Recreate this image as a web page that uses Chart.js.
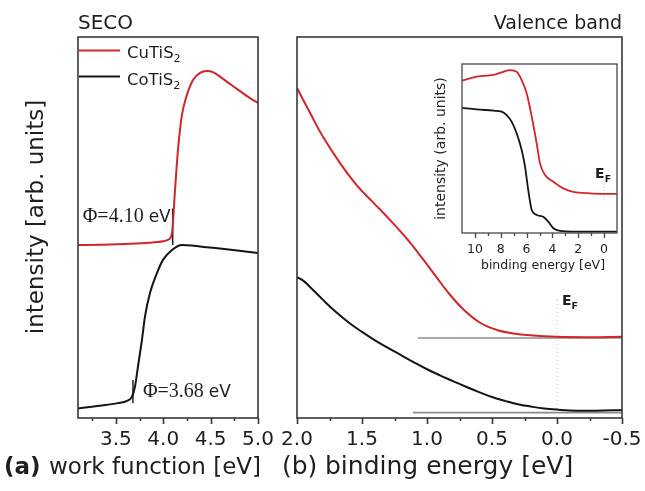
<!DOCTYPE html>
<html><head><meta charset="utf-8">
<script src="https://cdn.jsdelivr.net/npm/chart.js@4"></script>
<style>
html,body{margin:0;padding:0;background:#fff;}
#wrap{position:relative;width:645px;height:491px;overflow:hidden;background:#fff;}
canvas{position:absolute;left:0;top:0;}
</style></head><body>
<div id="wrap">
<canvas id="ca" width="645" height="491"></canvas>
<canvas id="cb" width="645" height="491"></canvas>
<canvas id="ci" width="645" height="491"></canvas>
</div>
<script>
// ---------- data ----------
const seriesNames = ['CuTiS₂', 'CoTiS₂'];
const panelTitles = ['SECO', 'Valence band'];

// (a) secondary electron cut-off (work function)
const secoCuX = [3.10, 3.35, 3.60, 3.85, 4.00, 4.06, 4.092, 4.124, 4.155, 4.197, 4.25, 4.314, 4.388, 4.461, 4.525, 4.62, 4.72, 4.81, 4.90, 5.00];
const secoCuY = [45.4, 45.5, 45.7, 46.0, 46.4, 46.9, 48.6, 59.8, 70.3, 79.5, 84.8, 88.7, 90.6, 91.1, 90.8, 89.2, 87.4, 85.8, 84.2, 82.7];
const secoCoX = [3.10, 3.33, 3.52, 3.617, 3.67, 3.701, 3.733, 3.775, 3.807, 3.86, 3.933, 3.997, 4.092, 4.197, 4.30, 4.388, 4.55, 4.736, 5.00];
const secoCoY = [2.5, 3.2, 3.9, 4.5, 5.6, 8.2, 13.5, 20.5, 26.6, 32.8, 38.0, 41.5, 44.1, 45.4, 45.3, 45.0, 44.6, 44.1, 43.3];
const phiValues = [4.10, 3.68];
const phiMarkCuY = [45.4, 55.0];
const phiMarkCoY = [3.9, 10.0];
const secoTicks = [3.5, 4.0, 4.5, 5.0];
const secoMinor = [3.25, 3.75, 4.25, 4.75];

// (b) valence band near E_F
const vbCuX = [2.0, 1.9, 1.8, 1.669, 1.538, 1.415, 1.285, 1.154, 1.031, 0.923, 0.846, 0.723, 0.592, 0.462, 0.338, 0.208, 0.0, -0.254, -0.5];
const vbCuY = [86.6, 80.1, 73.8, 66.9, 61.0, 56.6, 52.0, 47.0, 41.7, 36.8, 33.3, 28.6, 25.0, 23.1, 22.2, 21.7, 21.3, 21.2, 21.3];
const vbCoX = [2.0, 1.95, 1.9, 1.8, 1.7, 1.6, 1.5, 1.4, 1.3, 1.2, 1.1, 1.0, 0.9, 0.8, 0.7, 0.6, 0.5, 0.4, 0.3, 0.2, 0.1, 0.0, -0.15, -0.3, -0.5];
const vbCoY = [37.0, 36.0, 34.4, 31.0, 27.8, 25.0, 22.6, 20.4, 18.4, 16.5, 14.6, 12.8, 11.2, 9.7, 8.2, 6.8, 5.5, 4.5, 3.6, 3.0, 2.5, 2.2, 1.9, 1.9, 2.1];
const baseCuX = [1.069, -0.5], baseCuY = [21.0, 21.0];
const baseCoX = [1.108, -0.5], baseCoY = [1.4, 1.4];
const efLineX = [0, 0], efLineY = [31, 1.3];
const vbTicks = [2.0, 1.5, 1.0, 0.5, 0.0, -0.5];
const vbMinor = [1.75, 1.25, 0.75, 0.25, -0.25];

// inset: wide valence band
const inCuX = [11.03, 9.87, 8.58, 7.8, 7.29, 6.77, 6.38, 5.99, 5.6, 5.22, 4.96, 4.57, 3.93, 3.16, 2.38, 1.09, -0.98];
const inCuY = [90.1, 92.5, 93.5, 95.4, 96.4, 95.4, 90.5, 82.6, 68.8, 53.1, 41.2, 34.3, 30.3, 26.4, 24.4, 23.5, 23.1];
const inCoX = [11.03, 9.87, 8.58, 7.93, 7.54, 7.16, 6.77, 6.38, 6.12, 5.87, 5.6, 5.22, 4.71, 4.32, 3.93, 3.41, 2.38, -0.98];
const inCoY = [74.1, 73.2, 72.4, 71.8, 69.8, 65.9, 59.0, 49.1, 39.3, 25.4, 13.6, 10.7, 9.6, 6.7, 2.8, 1.2, 0.8, 0.8];
const inEfX = [0, 0], inEfY = [31, 19.5];
const inTicks = [10, 8, 6, 4, 2, 0];
const inMinor = [9, 7, 5, 3, 1];

// ---------- helpers ----------
const SANS = '"DejaVu Sans", Verdana, sans-serif';
const SERIF = '"Liberation Serif", "Times New Roman", serif';
const RED = '#d0262c', BLACK = '#141414', GRAY = '#8c8c8c', FRAME = '#383838', TXT = '#1e1e1e';

function pts(xs, ys) { return xs.map((x, i) => ({ x: x, y: ys[i] })); }
function segsOf(label) {
  const subs = { '₀':'0','₁':'1','₂':'2','₃':'3','₄':'4' };
  const out = [];
  for (const ch of label) {
    const sub = subs[ch] !== undefined;
    const t = sub ? subs[ch] : ch;
    const last = out[out.length - 1];
    if (last && last.sub === sub) last.t += t; else out.push({ t: t, sub: sub });
  }
  return out;
}
function drawSegs(ctx, segs, x, y, size, family, weight, align) {
  const ws = segs.map(s => { ctx.font = (weight || '') + ' ' + (s.sub ? size * 0.68 : size) + 'px ' + family; return ctx.measureText(s.t).width; });
  const w = ws.reduce((a, b) => a + b, 0);
  let cx = align === 'right' ? x - w : align === 'center' ? x - w / 2 : x;
  segs.forEach((s, i) => {
    ctx.font = (weight || '') + ' ' + (s.sub ? size * 0.68 : size) + 'px ' + family;
    ctx.fillText(s.t, cx, s.sub ? y + size * 0.25 : y);
    cx += ws[i];
  });
}
function isMajor(v, list) { return list.some(m => Math.abs(m - v) < 1e-6); }

const framePlugin = {
  id: 'frameTicks',
  afterDatasetsDraw(chart, args, o) {
    const { ctx, chartArea: a } = chart;
    const x = chart.scales.x;
    ctx.save();
    ctx.strokeStyle = o.color; ctx.lineWidth = o.width;
    ctx.strokeRect(a.left, a.top, a.right - a.left, a.bottom - a.top);
    x.ticks.forEach(t => {
      const px = Math.round(x.getPixelForValue(t.value)) + 0.5;
      const len = t.label !== '' ? o.major : o.minor;
      ctx.beginPath(); ctx.moveTo(px, a.bottom); ctx.lineTo(px, a.bottom + len); ctx.stroke();
    });
    ctx.restore();
  }
};

const MONO = { cubicInterpolationMode: 'monotone' };
const SMOOTH = { cubicInterpolationMode: 'default', tension: 0.4 };
const STRAIGHT = { cubicInterpolationMode: 'default', tension: 0 };
function lineDs(label, data, color, width, extra) {
  return Object.assign({ label: label, data: data, borderColor: color, backgroundColor: color, borderWidth: width,
    pointRadius: 0, fill: false }, extra || {});
}

function config(ds, opt) {
  return {
    type: 'line',
    data: { datasets: ds },
    options: {
      responsive: false, animation: false, devicePixelRatio: 1,
      layout: { padding: opt.pad },
      plugins: { legend: { display: false }, tooltip: { enabled: false }, frameTicks: opt.frame },
      scales: {
        x: {
          type: 'linear', min: opt.min, max: opt.max, reverse: !!opt.reverse,
          afterFit: s => { s.height = opt.axisH; },
          afterBuildTicks: s => { s.ticks = opt.major.concat(opt.minor).sort((a, b) => a - b).map(v => ({ value: v })); },
          grid: { display: false, drawTicks: false }, border: { display: false },
          ticks: { autoSkip: false, maxRotation: 0, minRotation: 0, padding: opt.tickPad, color: TXT,
            font: { family: SANS, size: opt.tickSize },
            callback: v => isMajor(v, opt.major) ? opt.fmt(v) : '' }
        },
        y: { type: 'linear', display: false, min: 0, max: 100 }
      }
    },
    plugins: [framePlugin, { id: 'txt', afterDraw: opt.draw }]
  };
}

// ---------- panel (a) ----------
new Chart(document.getElementById('ca'), config([
  lineDs(seriesNames[0], pts(secoCuX, secoCuY), RED, 2, MONO),
  lineDs(seriesNames[1], pts(secoCoX, secoCoY), BLACK, 2, MONO),
  lineDs('phiCu', pts([phiValues[0], phiValues[0]], phiMarkCuY), BLACK, 1.4, STRAIGHT),
  lineDs('phiCo', pts([phiValues[1], phiValues[1]], phiMarkCoY), BLACK, 1.4, STRAIGHT)
], {
  pad: { left: 78, right: 387, top: 37, bottom: 0 }, axisH: 73,
  min: 3.1, max: 5.0, major: secoTicks, minor: secoMinor, tickPad: 10, tickSize: 20,
  fmt: v => v.toFixed(1),
  frame: { color: FRAME, width: 1.6, major: 6, minor: 3 },
  draw(chart) {
    const ctx = chart.ctx, x = chart.scales.x, a = chart.chartArea;
    ctx.save();
    ctx.fillStyle = TXT; ctx.textBaseline = 'alphabetic';
    ctx.font = '20px ' + SANS; ctx.textAlign = 'left';
    ctx.fillText(panelTitles[0], a.left, 29);
    // legend
    const ly = [50.5, 76.5], ty = [58, 85];
    chart.data.datasets.slice(0, 2).forEach((d, i) => {
      ctx.strokeStyle = d.borderColor; ctx.lineWidth = 2;
      ctx.beginPath(); ctx.moveTo(a.left + 1, ly[i]); ctx.lineTo(a.left + 42, ly[i]); ctx.stroke();
      ctx.fillStyle = TXT; ctx.textAlign = 'left';
      drawSegs(ctx, segsOf(d.label), a.left + 49, ty[i], 16.5, SANS, '');
    });
    // work function annotations
    const phiTxt = v => 'Φ=' + v.toFixed(2);
    ctx.fillStyle = TXT;
    ctx.font = '20px ' + SERIF; const w1 = ctx.measureText(phiTxt(phiValues[0]) + ' ').width;
    ctx.font = '17px ' + SANS; const w2 = ctx.measureText('eV').width;
    let xr = x.getPixelForValue(phiValues[0]) - 2;
    ctx.font = '20px ' + SERIF; ctx.fillText(phiTxt(phiValues[0]) + ' ', xr - w1 - w2, 222);
    ctx.font = '17px ' + SANS; ctx.fillText('eV', xr - w2, 222);
    let xl = x.getPixelForValue(phiValues[1]) + 10;
    ctx.font = '20px ' + SERIF; const w3 = ctx.measureText(phiTxt(phiValues[1]) + ' ').width;
    ctx.fillText(phiTxt(phiValues[1]) + ' ', xl, 397);
    ctx.font = '17px ' + SANS; ctx.fillText('eV', xl + w3, 397);
    // axis titles
    ctx.font = 'bold 23px ' + SANS; ctx.fillText('(a)', 4, 474);
    ctx.font = '23px ' + SANS; ctx.fillText('work function [eV]', 49, 474);
    ctx.save();
    ctx.translate(37, 217); ctx.rotate(-Math.PI / 2);
    ctx.textAlign = 'center'; ctx.textBaseline = 'middle';
    ctx.font = '23px ' + SANS; ctx.fillText('intensity [arb. units]', 0, 0);
    ctx.restore();
    ctx.restore();
  }
}));

// ---------- panel (b) ----------
new Chart(document.getElementById('cb'), config([
  lineDs(seriesNames[0], pts(vbCuX, vbCuY), RED, 2, SMOOTH),
  lineDs(seriesNames[1], pts(vbCoX, vbCoY), BLACK, 2, SMOOTH),
  lineDs('baseCu', pts(baseCuX, baseCuY), GRAY, 1.6, STRAIGHT),
  lineDs('baseCo', pts(baseCoX, baseCoY), GRAY, 1.6, STRAIGHT),
  lineDs('EF', pts(efLineX, efLineY), '#c4c4c4', 1, Object.assign({ borderDash: [1, 3] }, STRAIGHT))
], {
  pad: { left: 297, right: 23, top: 37, bottom: 0 }, axisH: 73,
  min: -0.5, max: 2.0, reverse: true, major: vbTicks, minor: vbMinor, tickPad: 10, tickSize: 20,
  fmt: v => v.toFixed(1),
  frame: { color: FRAME, width: 1.6, major: 6, minor: 3 },
  draw(chart) {
    const ctx = chart.ctx, x = chart.scales.x, a = chart.chartArea;
    ctx.save();
    ctx.fillStyle = TXT; ctx.textBaseline = 'alphabetic';
    ctx.font = '19px ' + SANS; ctx.textAlign = 'right';
    ctx.fillText(panelTitles[1], a.right, 29);
    ctx.textAlign = 'left';
    drawSegs(ctx, [{ t: 'E', sub: false }, { t: 'F', sub: true }], x.getPixelForValue(0) + 5, 305, 14, SANS, 'bold');
    ctx.font = '25px ' + SANS; ctx.fillText('(b)', 282, 474);
    ctx.fillText('binding energy [eV]', 325, 474);
    ctx.restore();
  }
}));

// ---------- inset ----------
new Chart(document.getElementById('ci'), config([
  lineDs(seriesNames[0], pts(inCuX, inCuY), RED, 1.8, MONO),
  lineDs(seriesNames[1], pts(inCoX, inCoY), BLACK, 1.8, MONO),
  lineDs('EF', pts(inEfX, inEfY), '#c4c4c4', 1, Object.assign({ borderDash: [1, 2] }, STRAIGHT))
], {
  pad: { left: 462, right: 28, top: 64, bottom: 0 }, axisH: 258,
  min: -1, max: 11, reverse: true, major: inTicks, minor: inMinor, tickPad: 9, tickSize: 12.5,
  fmt: v => String(v),
  frame: { color: '#474747', width: 1.3, major: 5, minor: 3 },
  draw(chart) {
    const ctx = chart.ctx, x = chart.scales.x, a = chart.chartArea;
    ctx.save();
    ctx.fillStyle = TXT; ctx.textBaseline = 'alphabetic'; ctx.textAlign = 'left';
    drawSegs(ctx, [{ t: 'E', sub: false }, { t: 'F', sub: true }], x.getPixelForValue(0) - 9, 178, 14, SANS, 'bold');
    ctx.textAlign = 'center';
    ctx.font = '12.5px ' + SANS; ctx.fillText('binding energy [eV]', 543, 269);
    ctx.save();
    ctx.translate(441, (a.top + a.bottom) / 2); ctx.rotate(-Math.PI / 2);
    ctx.textBaseline = 'middle';
    ctx.font = '14px ' + SANS; ctx.fillText('intensity (arb. units)', 0, 0);
    ctx.restore();
    ctx.restore();
  }
}));
</script>
</body></html>
